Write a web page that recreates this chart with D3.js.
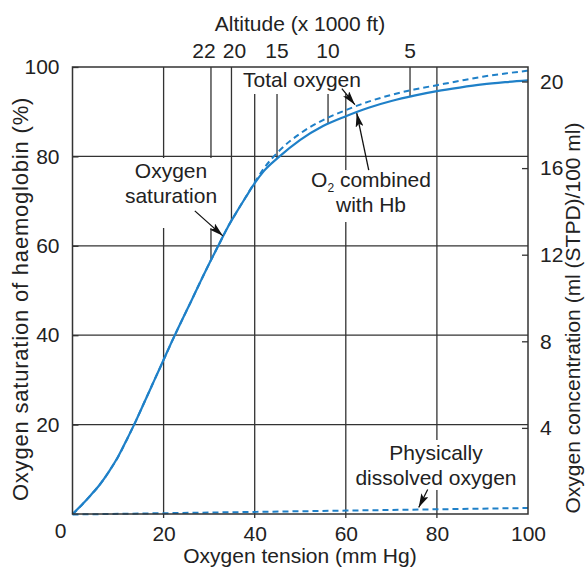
<!DOCTYPE html>
<html>
<head>
<meta charset="utf-8">
<script src="https://cdn.jsdelivr.net/npm/d3@7/dist/d3.min.js"></script>
<style>
  html, body { margin: 0; padding: 0; background: #fff; }
  svg { display: block; font-family: "Liberation Sans", Arial, sans-serif; }
</style>
</head>
<body>
<svg id="chart" width="585" height="568"></svg>
<script>
// Oxygen tension (mm Hg) at which each curve is sampled
const pressure = [0, 2, 4, 6, 8, 10, 12, 14, 16, 18, 20, 22, 24, 26, 28, 30, 32, 34, 36, 38, 40,
                  42, 45, 50, 55, 60, 65, 70, 75, 80, 85, 90, 95, 100];
// Haemoglobin saturation (%) - left axis
const saturation = [0, 2.0, 4.2, 6.6, 9.5, 12.8, 16.8, 21.0, 25.5, 30.0, 34.5, 39.0, 43.3, 47.5, 51.8,
                    56.0, 60.0, 64.0, 67.5, 70.8, 74.0, 76.7, 79.6, 83.7, 86.8, 89.0, 90.9, 92.4,
                    93.6, 94.6, 95.4, 96.1, 96.6, 97.0];
// Total oxygen content (ml/100 ml) - right axis
const totalOxygen = [0, 0.43, 0.89, 1.38, 1.98, 2.66, 3.49, 4.36, 5.29, 6.22, 7.14, 8.07, 8.96, 9.83,
                     10.72, 11.58, 12.41, 13.24, 13.96, 14.65, 15.34, 15.98, 16.72, 17.60, 18.22,
                     18.68, 19.07, 19.38, 19.63, 19.83, 20.03, 20.22, 20.37, 20.50];
// Physically dissolved oxygen (ml/100 ml) - right axis
const dissolvedPressure = [0, 20, 40, 60, 80, 100];
const dissolvedOxygen = [0, 0.06, 0.12, 0.18, 0.24, 0.30];
// Altitude (x 1000 ft) and the equivalent oxygen tension
const altitudeFt = [22, 20, 15, 10, 5];
const altitudePO2 = [30.4, 34.9, 44.9, 56.1, 74.1];

const xTicks = [20, 40, 60, 80, 100];
const leftTicks = [20, 40, 60, 80, 100];
const rightTicks = [4, 8, 12, 16, 20];

const ink = "#222";
const gridInk = "#333";
const blue = "#1f80c8";
const FS = 21;

const svg = d3.select("#chart");
const x = d3.scaleLinear().domain([0, 100]).range([72.5, 528]);
const yL = d3.scaleLinear().domain([0, 100]).range([514, 67]);
const yR = d3.scaleLinear().domain([0, 20]).range([514.5, 81.5]);

// linear interpolation along a sampled series
const interp = (xs, ys) => p => {
  const i = Math.min(xs.length - 1, Math.max(1, d3.bisectLeft(xs, p)));
  const t = (p - xs[i - 1]) / (xs[i] - xs[i - 1]);
  return ys[i - 1] + t * (ys[i] - ys[i - 1]);
};
const satAt = interp(pressure, saturation);
const totalAt = interp(pressure, totalOxygen);
const dissolvedAt = interp(dissolvedPressure, dissolvedOxygen);

// arrow head marker
svg.append("defs").append("marker")
  .attr("id", "head").attr("markerUnits", "userSpaceOnUse")
  .attr("viewBox", "0 0 14 8").attr("refX", 14).attr("refY", 4)
  .attr("markerWidth", 14).attr("markerHeight", 8).attr("orient", "auto")
  .append("path").attr("d", "M0,0 L14,4 L0,8 L3,4 Z").attr("fill", "#111");

// grid
const grid = svg.append("g").attr("stroke", gridInk).attr("stroke-width", 1.3);
grid.selectAll("line.v").data(xTicks.slice(0, -1)).join("line")
  .attr("x1", d => x(d)).attr("x2", d => x(d))
  .attr("y1", yL(100)).attr("y2", yL(0) + 4);
grid.selectAll("line.h").data(leftTicks.slice(0, -1)).join("line")
  .attr("y1", d => yL(d)).attr("y2", d => yL(d))
  .attr("x1", x(0)).attr("x2", x(100));

// altitude lines from the top axis down to the saturation curve
grid.selectAll("line.alt").data(altitudePO2).join("line")
  .attr("x1", d => x(d)).attr("x2", d => x(d))
  .attr("y1", yL(100)).attr("y2", d => yL(satAt(d)));

// white backing behind the annotation text
const boxes = [
  [240, 67, 126, 27],
  [122, 158, 99, 70],
  [305, 170, 131, 52],
  [353, 440, 166, 50]
];
svg.append("g").selectAll("rect").data(boxes).join("rect")
  .attr("x", d => d[0]).attr("y", d => d[1]).attr("width", d => d[2]).attr("height", d => d[3])
  .attr("fill", "#fff");

// curves
const line = (xs, ys, yScale) => d3.line()
  .x((d, i) => x(xs[i])).y((d, i) => yScale(ys[i]))
  .curve(d3.curveMonotoneX)(xs);

svg.append("path").attr("d", line(pressure, saturation, yL))
  .attr("fill", "none").attr("stroke", blue).attr("stroke-width", 2.2);
svg.append("path").attr("d", line(pressure, totalOxygen, yR))
  .attr("fill", "none").attr("stroke", blue).attr("stroke-width", 2)
  .attr("stroke-dasharray", "6,4");
svg.append("path").attr("d", line(dissolvedPressure, dissolvedOxygen, yR))
  .attr("fill", "none").attr("stroke", blue).attr("stroke-width", 2)
  .attr("stroke-dasharray", "6,4");

// frame
svg.append("rect").attr("x", x(0)).attr("y", yL(100))
  .attr("width", x(100) - x(0)).attr("height", yL(0) - yL(100))
  .attr("fill", "none").attr("stroke", gridInk).attr("stroke-width", 1.5);

// axes
const axisStyle = g => {
  g.select(".domain").remove();
  g.selectAll(".tick line").attr("stroke", gridInk).attr("stroke-width", 1.3);
  g.selectAll(".tick text").attr("fill", ink).style("font-size", FS + "px")
    .style("font-family", "'Liberation Sans', Arial, sans-serif");
};
svg.append("g").attr("transform", `translate(0,${yL(0)})`)
  .call(d3.axisBottom(x).tickValues(xTicks).tickSize(0).tickPadding(8).tickFormat(d3.format("d")))
  .call(axisStyle)
  .call(g => g.selectAll(".tick text").attr("dy", "0.92em"));
svg.append("text").attr("x", x(0) - 12).attr("y", 538).attr("text-anchor", "middle")
  .attr("fill", ink).style("font-size", FS + "px").text("0");

svg.append("g").attr("transform", `translate(${x(0)},0)`)
  .call(d3.axisLeft(yL).tickValues(leftTicks).tickSize(-6).tickPadding(13))
  .call(axisStyle);

svg.append("g").attr("transform", `translate(${x(100)},0)`)
  .call(d3.axisRight(yR).tickValues(rightTicks).tickSize(-6).tickPadding(12))
  .call(axisStyle);

// top altitude tick labels
const altShift = { 22: -7, 20: 3 };
svg.append("g").selectAll("text").data(altitudeFt).join("text")
  .attr("x", (d, i) => x(altitudePO2[i]) + (altShift[d] || 0))
  .attr("y", 58).attr("text-anchor", "middle").attr("fill", ink)
  .style("font-size", FS + "px").text(d => d);

// axis titles
svg.append("text").attr("x", 300).attr("y", 31).attr("text-anchor", "middle")
  .attr("fill", ink).style("font-size", FS + "px").text("Altitude (x 1000 ft)");
svg.append("text").attr("x", 300).attr("y", 563).attr("text-anchor", "middle")
  .attr("fill", ink).style("font-size", FS + "px").text("Oxygen tension (mm Hg)");
svg.append("text").attr("transform", "translate(28,299) rotate(-90)").attr("text-anchor", "middle")
  .attr("fill", ink).style("font-size", "22px").style("letter-spacing", "0.8px")
  .text("Oxygen saturation of haemoglobin (%)");
svg.append("text").attr("transform", "translate(580,318) rotate(-90)").attr("text-anchor", "middle")
  .attr("fill", ink).style("font-size", FS + "px").text("Oxygen concentration (ml (STPD)/100 ml)");

// annotation labels
const label = (cx, lines, y0) => {
  const t = svg.append("text").attr("text-anchor", "middle").attr("fill", ink).style("font-size", FS + "px");
  lines.forEach((s, i) => t.append("tspan").attr("x", cx).attr("y", y0 + i * 25).text(s));
  return t;
};
label(302, ["Total oxygen"], 87);
label(171, ["Oxygen", "saturation"], 178);
label(436, ["Physically", "dissolved oxygen"], 460);
const o2 = svg.append("text").attr("text-anchor", "middle").attr("fill", ink).style("font-size", FS + "px");
o2.append("tspan").attr("x", 371).attr("y", 187).text("O");
o2.append("tspan").attr("dy", 5).style("font-size", "12px").text("2");
o2.append("tspan").attr("dy", -5).text(" combined");
svg.append("text").attr("x", 371).attr("y", 212).attr("text-anchor", "middle")
  .attr("fill", ink).style("font-size", FS + "px").text("with Hb");

// arrows pointing to the curves
const arrows = [
  { p: 62, y: yR(totalAt(62)) - 2, dx: -13, dy: -16 },
  { p: 62.4, y: yL(satAt(62.4)) + 1, dx: 12, dy: 57 },
  { p: 33, y: yL(satAt(33)) - 1, dx: -28, dy: -25 },
  { p: 76, y: yR(dissolvedAt(76)) - 2, dx: 9, dy: -18 }
];
svg.append("g").selectAll("line").data(arrows).join("line")
  .attr("x1", d => x(d.p) + d.dx).attr("y1", d => d.y + d.dy)
  .attr("x2", d => x(d.p)).attr("y2", d => d.y)
  .attr("stroke", "#111").attr("stroke-width", 1.3).attr("marker-end", "url(#head)");
</script>
</body>
</html>
